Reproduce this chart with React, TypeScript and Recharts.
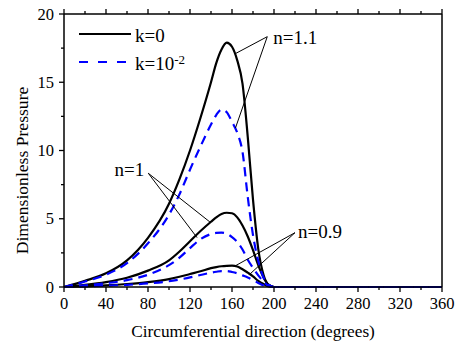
import React from "react";
import { LineChart, Line, XAxis, YAxis, ReferenceLine, ReferenceDot, Legend } from "recharts";

// circumferential angle (deg) where the pressure curves are sampled
const degrees = [0, 20, 40, 60, 80, 100, 110, 120, 130, 140, 145, 150, 155, 160, 165, 170, 175, 180, 185, 190, 195, 200, 360];

// k = 0 (solid black)
const k0n11 = [0, 0.45, 1.0, 1.95, 3.6, 6.1, 7.9, 10.0, 12.4, 15.0, 16.4, 17.4, 17.9, 17.6, 16.6, 14.9, 11.0, 6.4, 2.8, 0.9, 0.15, 0, 0];
const k0n1 = [0, 0.15, 0.36, 0.68, 1.2, 1.95, 2.6, 3.35, 4.1, 4.78, 5.1, 5.35, 5.44, 5.4, 5.1, 4.5, 3.7, 2.7, 1.6, 0.7, 0.15, 0, 0];
const k0n09 = [0, 0.05, 0.12, 0.22, 0.36, 0.58, 0.75, 0.95, 1.15, 1.38, 1.46, 1.52, 1.55, 1.56, 1.5, 1.3, 1.05, 0.78, 0.45, 0.22, 0.05, 0, 0];

// k = 10^-2 (dashed blue)
const k2n11 = [0, 0.4, 0.9, 1.75, 3.2, 5.3, 6.8, 8.6, 10.3, 11.9, 12.6, 13.0, 12.8, 12.1, 11.3, 9.9, 6.6, 3.8, 1.9, 0.7, 0.15, 0, 0];
const k2n1 = [0, 0.12, 0.28, 0.5, 0.9, 1.6, 2.15, 2.85, 3.5, 3.88, 3.96, 3.98, 3.9, 3.65, 3.3, 2.75, 2.0, 1.4, 0.85, 0.4, 0.08, 0, 0];
const k2n09 = [0, 0.04, 0.09, 0.16, 0.26, 0.42, 0.55, 0.7, 0.88, 1.05, 1.12, 1.17, 1.17, 1.1, 1.0, 0.85, 0.7, 0.5, 0.3, 0.12, 0.02, 0, 0];

const xTicks = [0, 20, 40, 60, 80, 100, 120, 140, 160, 180, 200, 220, 240, 260, 280, 300, 320, 340, 360];
const yTicks = [0, 2.5, 5, 7.5, 10, 12.5, 15, 17.5, 20];

// annotation labels: text, anchor point (deg, value) and the curve points they point at
const annoLabels = ["n=1.1", "n=1", "n=0.9"];
const annoFrom = [
  { x: 193.6, y: 18.34 },
  { x: 80.3, y: 8.33 },
  { x: 220, y: 3.98 },
];
const annoTo = [
  [{ x: 163.3, y: 17.1 }, { x: 163.3, y: 11.65 }],
  [{ x: 139, y: 4.76 }, { x: 126.7, y: 3.62 }],
  [{ x: 162.9, y: 1.54 }, { x: 177.1, y: 0.95 }],
];

const data = degrees.map((d, i) => ({
  deg: d,
  k0n11: k0n11[i],
  k0n1: k0n1[i],
  k0n09: k0n09[i],
  k2n11: k2n11[i],
  k2n1: k2n1[i],
  k2n09: k2n09[i],
}));

const FONT = "'Liberation Serif', 'Times New Roman', serif";
const BLUE = "#0000ff";
const txt = (size: number) => ({ fontFamily: FONT, fontSize: size, fill: "#000" });

function BottomTick({ x, y, payload }: any) {
  const major = payload.value % 40 === 0;
  return (
    <g>
      <line x1={x} x2={x} y1={y} y2={y + (major ? 5 : 3)} stroke="#000" strokeWidth={1.3} />
      {major && (
        <text x={x} y={y + 22} textAnchor="middle" style={txt(16.5)}>
          {payload.value}
        </text>
      )}
    </g>
  );
}

function TopTick({ x, y, payload }: any) {
  const major = payload.value % 40 === 0;
  return <line x1={x} x2={x} y1={y} y2={y - (major ? 5 : 3)} stroke="#000" strokeWidth={1.3} />;
}

function LeftTick({ x, y, payload }: any) {
  const major = payload.value % 5 === 0;
  return (
    <g>
      <line x1={x - (major ? 5 : 3)} x2={x} y1={y} y2={y} stroke="#000" strokeWidth={1.3} />
      {major && (
        <text x={x - 10} y={y + 5.5} textAnchor="end" style={txt(16.5)}>
          {payload.value}
        </text>
      )}
    </g>
  );
}

function RightTick({ x, y, payload }: any) {
  const major = payload.value % 5 === 0;
  return <line x1={x} x2={x + (major ? 5 : 3)} y1={y} y2={y} stroke="#000" strokeWidth={1.3} />;
}

function LegendBox() {
  return (
    <svg width={220} height={80}>
      <line x1={79} x2={131} y1={34} y2={34} stroke="#000" strokeWidth={2.2} />
      <text x={135} y={42} style={txt(19)}>k=0</text>
      <line x1={79} x2={129} y1={62} y2={62} stroke={BLUE} strokeWidth={2.2} strokeDasharray="9 10" />
      <text x={135} y={70} style={txt(19)}>
        k=10
        <tspan style={{ fontSize: 13 }} dy={-6}>-2</tspan>
      </text>
    </svg>
  );
}

const annoOffsets = [
  { anchor: "start", dx: 6, dy: 7 },
  { anchor: "end", dx: -4, dy: 3 },
  { anchor: "start", dx: 3, dy: 5 },
];

function annoLabel(i: number) {
  return (props: any) => {
    const vb = props.viewBox || {};
    const o = annoOffsets[i];
    return (
      <text x={vb.x + o.dx} y={vb.y + o.dy} textAnchor={o.anchor} style={txt(19)}>
        {annoLabels[i]}
      </text>
    );
  };
}

export default function App() {
  return (
    <div style={{ position: "absolute", left: 0, top: 0, width: 457, height: 345, background: "#fff" }}>
      <LineChart width={457} height={345} data={data} margin={{ top: 0, right: 0, bottom: 0, left: 0 }}>
        <XAxis
          dataKey="deg"
          type="number"
          domain={[0, 360]}
          ticks={xTicks}
          interval={0}
          height={58}
          tickSize={0}
          tickMargin={0}
          tick={<BottomTick />}
          axisLine={{ stroke: "#000", strokeWidth: 1.5 }}
          label={{
            content: (p: any) => {
              const vb = p.viewBox;
              return (
                <text x={vb.x + vb.width / 2} y={vb.y + 50} textAnchor="middle" style={txt(17.3)}>
                  Circumferential direction (degrees)
                </text>
              );
            },
          }}
        />
        <XAxis
          xAxisId="top"
          orientation="top"
          dataKey="deg"
          type="number"
          domain={[0, 360]}
          ticks={xTicks}
          interval={0}
          height={14}
          tickSize={0}
          tickMargin={0}
          tick={<TopTick />}
          axisLine={{ stroke: "#000", strokeWidth: 1.5 }}
        />
        <YAxis
          type="number"
          domain={[0, 20]}
          ticks={yTicks}
          interval={0}
          width={64}
          tickSize={0}
          tickMargin={0}
          tick={<LeftTick />}
          axisLine={{ stroke: "#000", strokeWidth: 1.5 }}
          label={{
            content: (p: any) => {
              const vb = p.viewBox;
              const cx = vb.x + 22;
              const cy = vb.y + vb.height / 2 + 20;
              return (
                <text x={cx} y={cy} transform={`rotate(-90 ${cx} ${cy})`} textAnchor="middle" dominantBaseline="central" style={txt(17.6)}>
                  Dimensionless Pressure
                </text>
              );
            },
          }}
        />
        <YAxis
          yAxisId="right"
          orientation="right"
          type="number"
          domain={[0, 20]}
          ticks={yTicks}
          interval={0}
          width={15}
          tickSize={0}
          tickMargin={0}
          tick={<RightTick />}
          axisLine={{ stroke: "#000", strokeWidth: 1.5 }}
        />
        <Legend
          layout="horizontal"
          verticalAlign="middle"
          align="center"
          wrapperStyle={{ position: "absolute", left: 0, top: 0, width: 220, height: 80 }}
          content={() => <LegendBox />}
        />

        <Line type="monotone" dataKey="k0n11" stroke="#000" strokeWidth={2.2} dot={false} isAnimationActive={false} />
        <Line type="monotone" dataKey="k0n1" stroke="#000" strokeWidth={2.2} dot={false} isAnimationActive={false} />
        <Line type="monotone" dataKey="k0n09" stroke="#000" strokeWidth={2.2} dot={false} isAnimationActive={false} />
        <Line type="monotone" dataKey="k2n11" stroke={BLUE} strokeWidth={2.2} strokeDasharray="9 6" dot={false} isAnimationActive={false} />
        <Line type="monotone" dataKey="k2n1" stroke={BLUE} strokeWidth={2.2} strokeDasharray="9 6" dot={false} isAnimationActive={false} />
        <Line type="monotone" dataKey="k2n09" stroke={BLUE} strokeWidth={2.2} strokeDasharray="9 6" dot={false} isAnimationActive={false} />

        {annoTo.map((targets, i) =>
          targets.map((t, j) => (
            <ReferenceLine
              key={`a${i}-${j}`}
              segment={[annoFrom[i], t]}
              stroke="#000"
              strokeWidth={1}
              ifOverflow="visible"
            />
          ))
        )}
        {annoFrom.map((p, i) => (
          <ReferenceDot key={`t${i}`} x={p.x} y={p.y} r={0} fill="none" stroke="none" ifOverflow="visible" label={annoLabel(i)} />
        ))}
      </LineChart>
    </div>
  );
}
